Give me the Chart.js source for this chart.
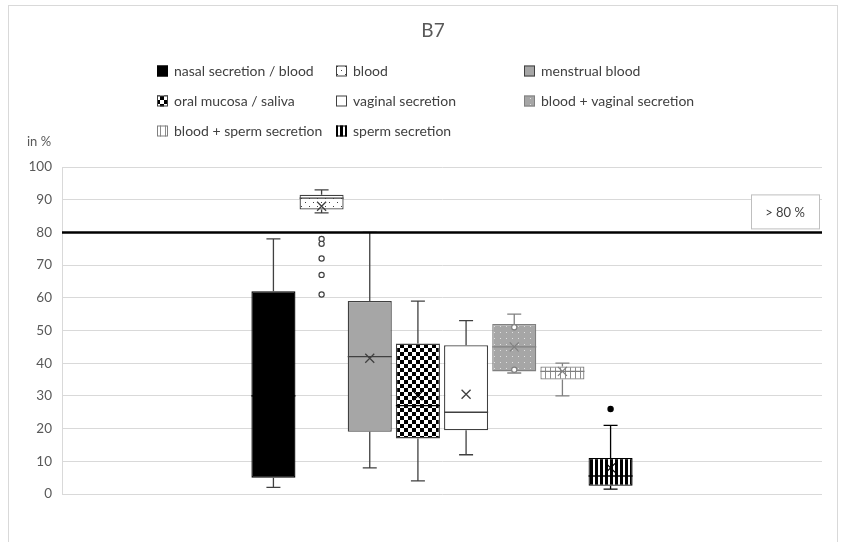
<!DOCTYPE html>
<html>
<head>
<meta charset="utf-8">
<script src="https://cdn.jsdelivr.net/npm/chart.js@4.4.1/dist/chart.umd.min.js"></script>
<style>
  html, body { margin: 0; padding: 0; background: #fff; }
  #wrap { width: 841px; height: 542px; position: relative; }
</style>
</head>
<body>
<div id="wrap"><canvas id="chart"></canvas></div>
<script>
// ---- data -------------------------------------------------------------
const chartTitle = 'B7';
const axisTitle = 'in %';
const categories = [''];
const seriesNames = [
  'nasal secretion / blood', 'blood', 'menstrual blood',
  'oral mucosa / saliva', 'vaginal secretion', 'blood + vaginal secretion',
  'blood + sperm secretion', 'sperm secretion'
];
const whiskerLow  = [2,   86,   8,   4,  12,   37,   30,  1.5];
const q1          = [5,   87,  19,  17,  19.5, 37.5, 35,  2.5];
const median      = [30,  90.5, 42,  27,  25,   45,   37.5, 5.5];
const q3          = [62,  91.5, 59,  46,  45.5, 52,   39,  11];
const whiskerHigh = [78,  93,  80,  59,  53,   55,   40,  21];
const means       = [33,  88,  41.5, 30, 30.5, 45,   37.5, 8];
const outliers    = [[], [78, 76.5, 72, 67, 61], [], [], [], [51, 38], [], [26]];
const yTicks = [0, 10, 20, 30, 40, 50, 60, 70, 80, 90, 100];
const thresholdValue = 80;
const thresholdLabel = '> 80 %';

// ---- fills ------------------------------------------------------------
function makePattern(w, h, paint) {
  const c = document.createElement('canvas');
  c.width = w; c.height = h;
  const g = c.getContext('2d');
  paint(g, w, h);
  return g.createPattern(c, 'repeat');
}
const fills = [
  '#000000',
  makePattern(8, 8, (g) => {
    g.fillStyle = '#fff'; g.fillRect(0, 0, 8, 8);
    g.fillStyle = '#404040'; g.fillRect(1, 2, 1, 1); g.fillRect(5, 6, 1, 1);
  }),
  '#a6a6a6',
  makePattern(8, 8, (g) => {
    g.fillStyle = '#fff'; g.fillRect(0, 0, 8, 8);
    g.fillStyle = '#000'; g.fillRect(0, 0, 4, 4); g.fillRect(4, 4, 4, 4);
  }),
  '#ffffff',
  makePattern(6, 6, (g) => {
    g.fillStyle = '#a6a6a6'; g.fillRect(0, 0, 6, 6);
    g.fillStyle = '#e0e0e0'; g.fillRect(2, 2, 1, 1);
  }),
  makePattern(5, 5, (g) => {
    g.fillStyle = '#fff'; g.fillRect(0, 0, 5, 5);
    g.fillStyle = '#8c8c8c'; g.fillRect(0, 0, 1, 5);
  }),
  makePattern(5, 5, (g) => {
    g.fillStyle = '#fff'; g.fillRect(0, 0, 5, 5);
    g.fillStyle = '#000'; g.fillRect(0, 0, 3, 5);
  })
];
const edgeColors = ['#000', '#404040', '#404040', '#404040', '#404040', '#808080', '#808080', '#000'];
const lineColors = ['#404040', '#404040', '#404040', '#404040', '#404040', '#808080', '#808080', '#000'];
const markColors = ['#000', '#404040', '#404040', '#000', '#404040', '#808080', '#808080', '#000'];

const FONT = 'Lato, "Open Sans", sans-serif';

// ---- frame, title, legend and axis caption ----------------------------
const decorPlugin = {
  id: 'decor',
  beforeDraw(chart) {
    const ctx = chart.ctx;
    ctx.save();
    ctx.fillStyle = '#fff';
    ctx.fillRect(0, 0, chart.width, chart.height);
    ctx.strokeStyle = '#d9d9d9';
    ctx.lineWidth = 1;
    ctx.strokeRect(8.5, 5.5, 829, 560);
    ctx.restore();
  },
  afterDraw(chart) {
    const ctx = chart.ctx;
    ctx.save();
    ctx.fillStyle = '#595959';
    ctx.font = '19px ' + FONT;
    ctx.textAlign = 'center';
    ctx.textBaseline = 'middle';
    ctx.fillText(chartTitle, 433, 31);

    ctx.font = '13px ' + FONT;
    ctx.textAlign = 'left';
    ctx.fillText(axisTitle, 27, 142);

    const colX = [157, 336, 524];
    const rowY = [71, 101, 131];
    seriesNames.forEach((name, i) => {
      const x = colX[i % 3], y = rowY[Math.floor(i / 3)];
      ctx.fillStyle = fills[i];
      ctx.fillRect(x, y - 5.5, 11, 11);
      ctx.strokeStyle = edgeColors[i];
      ctx.lineWidth = 1;
      ctx.strokeRect(x + 0.5, y - 5, 10, 10);
      ctx.fillStyle = '#404040';
      ctx.font = '14px ' + FONT;
      ctx.textBaseline = 'middle';
      ctx.fillText(name, x + 17, y + 0.5);
    });
    ctx.restore();
  }
};

// ---- whiskers, medians, means, outliers, threshold --------------------
const boxPlotPlugin = {
  id: 'boxExtras',
  afterDatasetsDraw(chart) {
    const ctx = chart.ctx;
    const y = chart.scales.y;
    const area = chart.chartArea;
    ctx.save();
    chart.data.datasets.forEach((ds, i) => {
      const bar = chart.getDatasetMeta(i).data[0];
      const cx = bar.x, half = bar.width / 2;
      const cap = 7;
      ctx.strokeStyle = lineColors[i];
      ctx.lineWidth = 1.3;
      ctx.beginPath();
      // upper whisker
      ctx.moveTo(cx, y.getPixelForValue(q3[i]));
      ctx.lineTo(cx, y.getPixelForValue(whiskerHigh[i]));
      ctx.moveTo(cx - cap, y.getPixelForValue(whiskerHigh[i]));
      ctx.lineTo(cx + cap, y.getPixelForValue(whiskerHigh[i]));
      // lower whisker
      ctx.moveTo(cx, y.getPixelForValue(q1[i]));
      ctx.lineTo(cx, y.getPixelForValue(whiskerLow[i]));
      ctx.moveTo(cx - cap, y.getPixelForValue(whiskerLow[i]));
      ctx.lineTo(cx + cap, y.getPixelForValue(whiskerLow[i]));
      ctx.stroke();

      // median
      ctx.strokeStyle = markColors[i];
      const my = y.getPixelForValue(median[i]);
      ctx.beginPath();
      ctx.moveTo(cx - half, my);
      ctx.lineTo(cx + half, my);
      ctx.stroke();

      // mean marker
      const ay = y.getPixelForValue(means[i]);
      const s = 4.5;
      ctx.beginPath();
      ctx.moveTo(cx - s, ay - s); ctx.lineTo(cx + s, ay + s);
      ctx.moveTo(cx + s, ay - s); ctx.lineTo(cx - s, ay + s);
      ctx.stroke();

      // outliers
      outliers[i].forEach((v) => {
        ctx.beginPath();
        ctx.arc(cx, y.getPixelForValue(v), 2.6, 0, Math.PI * 2);
        ctx.fillStyle = i === 7 ? '#000' : '#fff';
        ctx.fill();
        ctx.lineWidth = 1.2;
        ctx.strokeStyle = lineColors[i];
        ctx.stroke();
      });
    });

    // threshold line and its tag
    const ty = y.getPixelForValue(thresholdValue);
    ctx.strokeStyle = '#000';
    ctx.lineWidth = 2.5;
    ctx.beginPath();
    ctx.moveTo(area.left, ty);
    ctx.lineTo(area.right, ty);
    ctx.stroke();

    const bx = area.right - 71, bw = 68, bh = 34, by = ty - 38;
    ctx.fillStyle = '#fff';
    ctx.fillRect(bx, by, bw, bh);
    ctx.strokeStyle = '#bfbfbf';
    ctx.lineWidth = 1;
    ctx.strokeRect(bx + 0.5, by + 0.5, bw, bh);
    ctx.fillStyle = '#404040';
    ctx.font = '13px ' + FONT;
    ctx.textAlign = 'center';
    ctx.textBaseline = 'middle';
    ctx.fillText(thresholdLabel, bx + bw / 2, by + bh / 2 + 1);
    ctx.restore();
  }
};

const datasets = seriesNames.map((name, i) => ({
  label: name,
  data: [[q1[i], q3[i]]],
  backgroundColor: fills[i],
  borderColor: edgeColors[i],
  borderWidth: 1.3,
  borderSkipped: false,
  categoryPercentage: 0.507,
  barPercentage: 0.915
}));

new Chart(document.getElementById('chart'), {
  type: 'bar',
  data: { labels: categories, datasets },
  plugins: [decorPlugin, boxPlotPlugin],
  options: {
    responsive: true,
    maintainAspectRatio: false,
    animation: false,
    layout: { padding: { top: 167, right: 19, bottom: 48, left: 0 } },
    plugins: { legend: { display: false }, title: { display: false }, tooltip: { enabled: false } },
    scales: {
      x: { display: false },
      y: {
        min: 0, max: 100,
        afterFit(scale) { scale.width = 62; },
        afterBuildTicks(scale) { scale.ticks = yTicks.map(v => ({ value: v })); },
        ticks: { padding: 10, color: '#595959', font: { family: FONT, size: 13.5 } },
        grid: { color: '#d9d9d9', lineWidth: 1, drawTicks: false },
        border: { display: true, color: '#d9d9d9' }
      }
    }
  }
});
</script>
</body>
</html>
